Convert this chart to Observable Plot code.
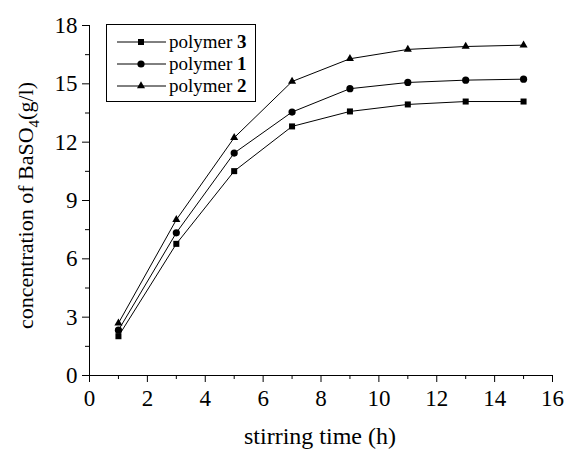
<!DOCTYPE html>
<html>
<head>
<meta charset="utf-8">
<script src="https://cdn.jsdelivr.net/npm/d3@7"></script>
<script src="https://cdn.jsdelivr.net/npm/@observablehq/plot@0.6"></script>
<style>
  html, body { margin: 0; padding: 0; background: #fff; }
  #chart { position: relative; width: 567px; height: 450px; }
  #chart svg, #chart svg text { font-family: "Liberation Serif", "Times New Roman", serif !important; }
</style>
</head>
<body>
<div id="chart"></div>
<script>
const times = [1, 3, 5, 7, 9, 11, 13, 15];
const polymer3 = [2.02, 6.77, 10.51, 12.81, 13.58, 13.94, 14.09, 14.09];
const polymer1 = [2.33, 7.34, 11.44, 13.55, 14.75, 15.07, 15.19, 15.24];
const polymer2 = [2.69, 8.01, 12.23, 15.12, 16.29, 16.77, 16.92, 16.99];
const seriesNames = ["polymer 3", "polymer 1", "polymer 2"];
const seriesNums = ["3", "1", "2"];
const seriesSymbols = ["square", "circle", "triangle"];
const seriesR = [3.4, 3.6, 3.0];
const xTicks = [0, 2, 4, 6, 8, 10, 12, 14, 16];
const xMinor = [1, 3, 5, 7, 9, 11, 13, 15];
const yTicks = [0, 3, 6, 9, 12, 15, 18];
const yMinor = [1.5, 4.5, 7.5, 10.5, 13.5, 16.5];
const xLabel = "stirring time (h)";

const seriesValues = [polymer3, polymer1, polymer2];
const data = [];
seriesValues.forEach((vals, i) => {
  vals.forEach((v, j) => data.push({series: seriesNames[i], t: times[j], c: v}));
});

const W = 567, H = 450;
const plot = Plot.plot({
  width: W,
  height: H,
  marginLeft: 89,
  marginRight: 15,
  marginTop: 25,
  marginBottom: 75,
  style: {fontFamily: '"Liberation Serif", serif', fontSize: "23px", color: "black", background: "white"},
  x: {domain: [0, 16]},
  y: {domain: [0, 18]},
  symbol: {domain: seriesNames, range: seriesSymbols},
  marks: [
    Plot.axisX({ticks: xMinor, tickSize: 4, text: null, label: null}),
    Plot.axisX({ticks: xTicks, tickSize: 7, tickPadding: 7, label: null, fontSize: 23, tickFormat: d => String(d)}),
    Plot.axisY({ticks: yMinor, tickSize: 4, text: null, label: null}),
    Plot.axisY({ticks: yTicks, tickSize: 7, tickPadding: 5, label: null, fontSize: 23, tickFormat: d => String(d)}),
    Plot.ruleY([0], {stroke: "black"}),
    Plot.ruleX([0], {stroke: "black"}),
    Plot.line(data, {x: "t", y: "c", z: "series", stroke: "black", strokeWidth: 1}),
    ...seriesNames.map((s, i) =>
      Plot.dot(data.filter(d => d.series === s), {x: "t", y: "c", symbol: "series", fill: "black", stroke: "none", r: seriesR[i]})
    )
  ]
});

const svg = d3.select(plot);

// x label
svg.append("text")
  .attr("x", 320).attr("y", 444)
  .attr("text-anchor", "middle")
  .attr("font-size", 24)
  .attr("fill", "black")
  .text(xLabel);

// y label with subscript
const yl = svg.append("text")
  .attr("transform", "translate(33,329) rotate(-90)")
  .attr("text-anchor", "start")
  .attr("font-size", 22)
  .attr("fill", "black");
yl.append("tspan").text("concentration of BaSO");
yl.append("tspan").attr("font-size", 15).attr("dy", 6).text("4");
yl.append("tspan").attr("dy", -6).text("(g/l)");

// legend
const lg = svg.append("g");
lg.append("rect").attr("x", 106.5).attr("y", 24.5).attr("width", 149).attr("height", 77)
  .attr("fill", "white").attr("stroke", "black").attr("stroke-width", 1);
const rowsY = [42, 64, 86];
seriesNames.forEach((s, i) => {
  const y = rowsY[i];
  lg.append("line").attr("x1", 117).attr("x2", 166).attr("y1", y).attr("y2", y)
    .attr("stroke", "black").attr("stroke-width", 1);
  const sym = d3.symbol(d3[{square: "symbolSquare", circle: "symbolCircle", triangle: "symbolTriangle"}[seriesSymbols[i]]], Math.PI * seriesR[i] * seriesR[i]);
  lg.append("path").attr("d", sym()).attr("transform", `translate(141,${y})`).attr("fill", "black");
  const t = lg.append("text").attr("x", 169).attr("y", y + 6).attr("text-anchor", "start")
    .attr("font-size", 19).attr("fill", "black");
  t.append("tspan").text("polymer ");
  t.append("tspan").attr("font-weight", "bold").text(seriesNums[i]);
});

document.getElementById("chart").appendChild(plot);
</script>
</body>
</html>
